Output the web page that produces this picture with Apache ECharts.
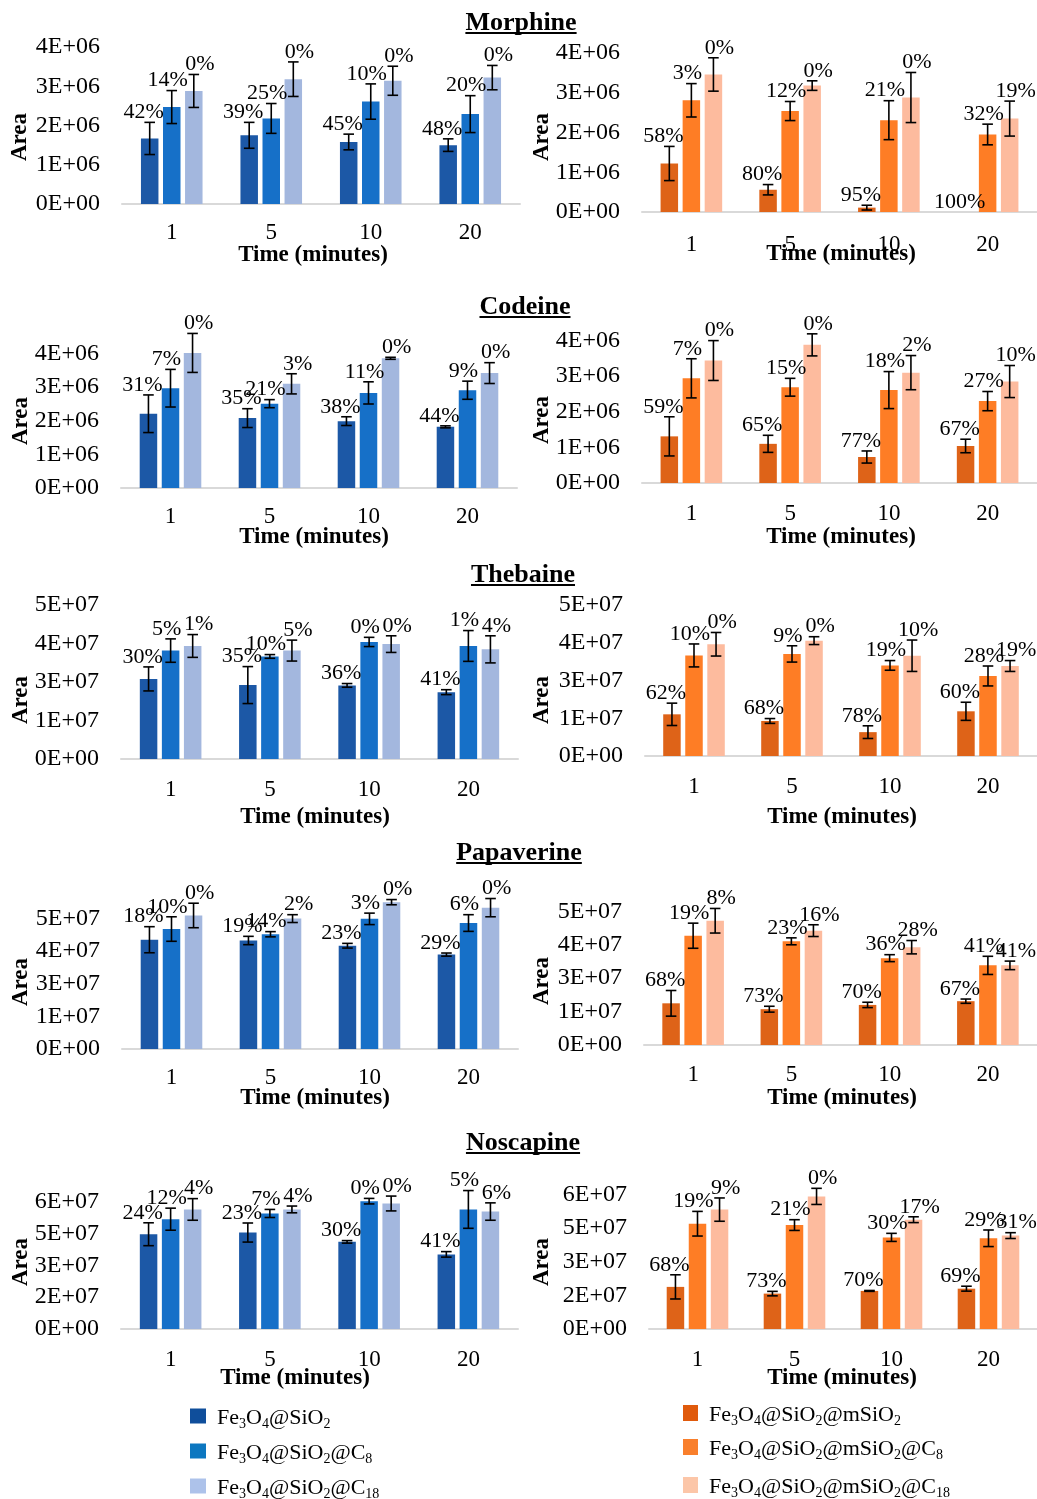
<!DOCTYPE html>
<html>
<head>
<meta charset="utf-8">
<script src="https://cdn.jsdelivr.net/npm/echarts@6/dist/echarts.min.js"></script>
<style>
  html, body { margin: 0; padding: 0; background: #ffffff; }
  #chart { width: 1037px; height: 1499px; }
</style>
</head>
<body>
<div id="chart"></div>
<script>
// Extraction time (minutes)
const categories = ['1', '5', '10', '20'];

// Peak areas: rows = bare / C8 / C18 coating; columns = extraction time.
// *Err = standard deviation (error bar half-length); *Pct = percentage shown above each bar.

// ---- Morphine ----
const morphineSilicaArea = [
  [1.67e6, 1.75e6, 1.58e6, 1.50e6],
  [2.47e6, 2.18e6, 2.61e6, 2.29e6],
  [2.88e6, 3.18e6, 3.14e6, 3.22e6]
];
const morphineSilicaErr = [
  [0.41e6, 0.33e6, 0.20e6, 0.16e6],
  [0.42e6, 0.38e6, 0.45e6, 0.47e6],
  [0.42e6, 0.44e6, 0.37e6, 0.31e6]
];
const morphineSilicaPct = [[42, 39, 45, 48], [14, 25, 10, 20], [0, 0, 0, 0]];

const morphineMesoArea = [
  [1.22e6, 0.56e6, 0.11e6, 0],
  [2.81e6, 2.54e6, 2.31e6, 1.95e6],
  [3.46e6, 3.18e6, 2.88e6, 2.35e6]
];
const morphineMesoErr = [
  [0.43e6, 0.13e6, 0.06e6, 0],
  [0.42e6, 0.24e6, 0.49e6, 0.26e6],
  [0.42e6, 0.12e6, 0.63e6, 0.44e6]
];
const morphineMesoPct = [[58, 80, 95, 100], [3, 12, 21, 32], [0, 0, 0, 19]];

// ---- Codeine ----
const codeineSilicaArea = [
  [2.21e6, 2.08e6, 1.99e6, 1.82e6],
  [2.97e6, 2.51e6, 2.83e6, 2.91e6],
  [4.02e6, 3.10e6, 3.86e6, 3.42e6]
];
const codeineSilicaErr = [
  [0.56e6, 0.28e6, 0.13e6, 0.03e6],
  [0.56e6, 0.12e6, 0.33e6, 0.27e6],
  [0.58e6, 0.30e6, 0.03e6, 0.31e6]
];
const codeineSilicaPct = [[31, 35, 38, 44], [7, 21, 11, 9], [0, 3, 0, 0]];

const codeineMesoArea = [
  [1.31e6, 1.10e6, 0.73e6, 1.04e6],
  [2.94e6, 2.69e6, 2.61e6, 2.30e6],
  [3.44e6, 3.88e6, 3.10e6, 2.85e6]
];
const codeineMesoErr = [
  [0.55e6, 0.24e6, 0.17e6, 0.19e6],
  [0.55e6, 0.25e6, 0.52e6, 0.27e6],
  [0.56e6, 0.31e6, 0.48e6, 0.45e6]
];
const codeineMesoPct = [[59, 65, 77, 67], [7, 15, 18, 27], [0, 0, 2, 10]];

// ---- Thebaine ----
const thebaineSilicaArea = [
  [2.60e7, 2.40e7, 2.39e7, 2.17e7],
  [3.52e7, 3.33e7, 3.80e7, 3.67e7],
  [3.67e7, 3.52e7, 3.73e7, 3.56e7]
];
const thebaineSilicaErr = [
  [0.39e7, 0.60e7, 0.06e7, 0.08e7],
  [0.38e7, 0.06e7, 0.15e7, 0.50e7],
  [0.37e7, 0.34e7, 0.27e7, 0.44e7]
];
const thebaineSilicaPct = [[30, 35, 36, 41], [5, 10, 0, 1], [1, 5, 0, 4]];

const thebaineMesoArea = [
  [1.38e7, 1.16e7, 0.79e7, 1.48e7],
  [3.33e7, 3.38e7, 3.00e7, 2.65e7],
  [3.70e7, 3.82e7, 3.32e7, 2.98e7]
];
const thebaineMesoErr = [
  [0.37e7, 0.08e7, 0.21e7, 0.30e7],
  [0.38e7, 0.27e7, 0.16e7, 0.33e7],
  [0.39e7, 0.13e7, 0.52e7, 0.18e7]
];
const thebaineMesoPct = [[62, 68, 78, 60], [10, 9, 19, 28], [0, 0, 10, 19]];

// ---- Papaverine ----
const papaverineSilicaArea = [
  [4.19e7, 4.16e7, 3.96e7, 3.62e7],
  [4.60e7, 4.40e7, 4.99e7, 4.83e7],
  [5.12e7, 5.00e7, 5.63e7, 5.42e7]
];
const papaverineSilicaErr = [
  [0.50e7, 0.16e7, 0.09e7, 0.06e7],
  [0.47e7, 0.10e7, 0.22e7, 0.32e7],
  [0.47e7, 0.15e7, 0.10e7, 0.35e7]
];
const papaverineSilicaPct = [[18, 19, 23, 29], [10, 14, 3, 6], [0, 2, 0, 0]];

const papaverineMesoArea = [
  [1.56e7, 1.34e7, 1.50e7, 1.64e7],
  [4.09e7, 3.88e7, 3.25e7, 2.98e7],
  [4.65e7, 4.28e7, 3.66e7, 2.98e7]
];
const papaverineMesoErr = [
  [0.48e7, 0.11e7, 0.10e7, 0.08e7],
  [0.47e7, 0.13e7, 0.13e7, 0.34e7],
  [0.46e7, 0.22e7, 0.25e7, 0.16e7]
];
const papaverineMesoPct = [[68, 73, 70, 67], [19, 23, 36, 41], [8, 16, 28, 41]];

// ---- Noscapine ----
const noscapineSilicaArea = [
  [4.47e7, 4.55e7, 4.11e7, 3.52e7],
  [5.18e7, 5.45e7, 6.03e7, 5.64e7],
  [5.64e7, 5.64e7, 5.92e7, 5.54e7]
];
const noscapineSilicaErr = [
  [0.54e7, 0.45e7, 0.06e7, 0.13e7],
  [0.52e7, 0.19e7, 0.13e7, 0.89e7],
  [0.51e7, 0.16e7, 0.35e7, 0.41e7]
];
const noscapineSilicaPct = [[24, 23, 30, 41], [12, 7, 0, 5], [4, 4, 0, 6]];

const noscapineMesoArea = [
  [1.88e7, 1.58e7, 1.70e7, 1.80e7],
  [4.70e7, 4.64e7, 4.09e7, 4.05e7],
  [5.33e7, 5.92e7, 4.88e7, 4.17e7]
];
const noscapineMesoErr = [
  [0.54e7, 0.10e7, 0.02e7, 0.11e7],
  [0.55e7, 0.24e7, 0.18e7, 0.37e7],
  [0.52e7, 0.36e7, 0.13e7, 0.13e7]
];
const noscapineMesoPct = [[68, 73, 70, 69], [19, 21, 30, 29], [9, 0, 17, 31]];

// Drug titles
const drugNames = ['Morphine', 'Codeine', 'Thebaine', 'Papaverine', 'Noscapine'];

// Sorbent names (series)
const silicaNames = ['Fe3O4@SiO2', 'Fe3O4@SiO2@C8', 'Fe3O4@SiO2@C18'];
const mesoNames = ['Fe3O4@SiO2@mSiO2', 'Fe3O4@SiO2@mSiO2@C8', 'Fe3O4@SiO2@mSiO2@C18'];

// ---------------------------------------------------------------- styling
const FONT = '"Liberation Serif", "Times New Roman", serif';
const BLUES = ['#1c58a6', '#1670c8', '#a3b7de'];
const ORANGES = ['#de6318', '#fe7d25', '#fdbb9e'];
const LEGEND_BLUES = ['#0f4e9b', '#0c77c0', '#adc2ea'];
const LEGEND_ORANGES = ['#e05a0c', '#f97f2c', '#fcc6a8'];
const BAR_W = 17.5;
const GAP_RATIO = 0.26;
const LABEL_DX = [-6, -4, 6];

// Panel layout: plot rectangle, axis scale and title anchors
const panels = [
  { area: morphineSilicaArea, err: morphineSilicaErr, pct: morphineSilicaPct, names: silicaNames, colors: BLUES,
    max: 4e6, interval: 1e6, hideMax: false, grid: { left: 122, top: 47, width: 398, height: 157 },
    catMargin: 18, xTitle: [313, 255], yTitle: [20, 137] },
  { area: morphineMesoArea, err: morphineMesoErr, pct: morphineMesoPct, names: mesoNames, colors: ORANGES,
    max: 4e6, interval: 1e6, hideMax: false, grid: { left: 642, top: 53, width: 402, height: 159 },
    catMargin: 22, xTitle: [841, 254], yTitle: [542, 137] },
  { area: codeineSilicaArea, err: codeineSilicaErr, pct: codeineSilicaPct, names: silicaNames, colors: BLUES,
    max: 5e6, interval: 1e6, hideMax: true, grid: { left: 121, top: 320, width: 396, height: 168 },
    catMargin: 18, xTitle: [314, 537], yTitle: [21, 421] },
  { area: codeineMesoArea, err: codeineMesoErr, pct: codeineMesoPct, names: mesoNames, colors: ORANGES,
    max: 5e6, interval: 1e6, hideMax: true, grid: { left: 642, top: 305, width: 402, height: 178 },
    catMargin: 20, xTitle: [841, 537], yTitle: [542, 420] },
  { area: thebaineSilicaArea, err: thebaineSilicaErr, pct: thebaineSilicaPct, names: silicaNames, colors: BLUES,
    max: 5e7, interval: 1.25e7, hideMax: false, grid: { left: 121, top: 605, width: 397, height: 154 },
    catMargin: 20, xTitle: [315, 817], yTitle: [21, 700] },
  { area: thebaineMesoArea, err: thebaineMesoErr, pct: thebaineMesoPct, names: mesoNames, colors: ORANGES,
    max: 5e7, interval: 1.25e7, hideMax: false, grid: { left: 645, top: 605, width: 400, height: 151 },
    catMargin: 20, xTitle: [842, 817], yTitle: [542, 700] },
  { area: papaverineSilicaArea, err: papaverineSilicaErr, pct: papaverineSilicaPct, names: silicaNames, colors: BLUES,
    max: 6.25e7, interval: 1.25e7, hideMax: true, grid: { left: 122, top: 886, width: 396, height: 163 },
    catMargin: 18, xTitle: [315, 1098], yTitle: [21, 982] },
  { area: papaverineMesoArea, err: papaverineMesoErr, pct: papaverineMesoPct, names: mesoNames, colors: ORANGES,
    max: 6.25e7, interval: 1.25e7, hideMax: true, grid: { left: 644, top: 878, width: 398, height: 167 },
    catMargin: 19, xTitle: [842, 1098], yTitle: [542, 981] },
  { area: noscapineSilicaArea, err: noscapineSilicaErr, pct: noscapineSilicaPct, names: silicaNames, colors: BLUES,
    max: 7.5e7, interval: 1.5e7, hideMax: true, grid: { left: 121, top: 1170, width: 397, height: 159 },
    catMargin: 20, xTitle: [295, 1378], yTitle: [21, 1262] },
  { area: noscapineMesoArea, err: noscapineMesoErr, pct: noscapineMesoPct, names: mesoNames, colors: ORANGES,
    max: 7.5e7, interval: 1.5e7, hideMax: true, grid: { left: 649, top: 1161, width: 393, height: 168 },
    catMargin: 20, xTitle: [842, 1378], yTitle: [542, 1262] }
];

// Title positions: [centre x, text middle y, underline y]
const titleAnchors = [[521, 23, 33], [525, 307, 317], [523, 575, 585], [519, 853, 863], [523, 1143, 1153]];

// Scientific tick format with one significant digit (e.g. 2.5E7 -> 3E+07)
function sci(v) {
  if (v === 0) return '0E+00';
  let e = Math.floor(Math.log10(Math.abs(v)) + 1e-9);
  let m = Math.round(v / Math.pow(10, e) + 1e-9);
  if (m >= 10) { m = 1; e += 1; }
  return m + 'E+' + String(e).padStart(2, '0');
}

const grids = [], xAxes = [], yAxes = [], series = [], graphics = [];

panels.forEach((p, pi) => {
  grids.push(Object.assign({ containLabel: false }, p.grid));
  xAxes.push({
    type: 'category', gridIndex: pi, data: categories,
    axisLine: { show: true, lineStyle: { color: '#d9d9d9', width: 2 } },
    axisTick: { show: false },
    axisLabel: { color: '#000', fontFamily: FONT, fontSize: 23, margin: p.catMargin - 1 }
  });
  yAxes.push({
    type: 'value', gridIndex: pi, min: 0, max: p.max, interval: p.interval,
    splitLine: { show: false }, axisLine: { show: false }, axisTick: { show: false },
    axisLabel: {
      color: '#000', fontFamily: FONT, fontSize: 24, margin: 22,
      showMaxLabel: !p.hideMax, formatter: sci
    }
  });

  for (let k = 0; k < 3; k++) {
    series.push({
      type: 'bar', name: p.names[k], xAxisIndex: pi, yAxisIndex: pi,
      data: p.area[k], barWidth: BAR_W, barGap: (GAP_RATIO * 100) + '%',
      itemStyle: { color: p.colors[k] }, clip: false, silent: true, z: 2
    });
  }
  for (let k = 0; k < 3; k++) {
    const vals = p.area[k], errs = p.err[k], pct = p.pct[k];
    series.push({
      type: 'custom', name: p.names[k] + ' SD', xAxisIndex: pi, yAxisIndex: pi,
      data: vals.map((v, i) => [i, v, errs[i]]),
      encode: { x: 0, y: 1 }, z: 5, clip: false, silent: true,
      renderItem: function (params, api) {
        const i = api.value(0), v = api.value(1), e = api.value(2);
        const cx = api.coord([i, 0])[0] + (k - 1) * BAR_W * (1 + GAP_RATIO);
        const yTop = api.coord([i, v + e])[1];
        const yBot = api.coord([i, Math.max(0, v - e)])[1];
        const children = [];
        if (e > 0) {
          const ls = { stroke: '#000', lineWidth: 1.6 };
          children.push({ type: 'line', shape: { x1: cx, y1: yTop, x2: cx, y2: yBot }, style: ls });
          children.push({ type: 'line', shape: { x1: cx - 5.3, y1: yTop, x2: cx + 5.3, y2: yTop }, style: ls });
          children.push({ type: 'line', shape: { x1: cx - 5.3, y1: yBot, x2: cx + 5.3, y2: yBot }, style: ls });
        }
        children.push({
          type: 'text', x: cx + LABEL_DX[k], y: yTop + 1,
          style: {
            text: pct[params.dataIndex] + '%', fill: '#000',
            fontFamily: FONT, fontSize: 22, align: 'center', verticalAlign: 'bottom'
          }
        });
        return { type: 'group', children: children };
      }
    });
  }

  graphics.push({
    type: 'text', x: p.xTitle[0], y: p.xTitle[1],
    style: { text: 'Time (minutes)', fill: '#000', fontFamily: FONT, fontSize: 23, fontWeight: 'bold',
             align: 'center', verticalAlign: 'middle' }
  });
  graphics.push({
    type: 'text', x: p.yTitle[0], y: p.yTitle[1], rotation: Math.PI / 2,
    style: { text: 'Area', fill: '#000', fontFamily: FONT, fontSize: 23, fontWeight: 'bold',
             align: 'center', verticalAlign: 'middle' }
  });
});

// Underlined drug titles
const measureCtx = document.createElement('canvas').getContext('2d');
measureCtx.font = 'bold 26px "Liberation Serif"';
drugNames.forEach((name, i) => {
  const [cx, cy, uy] = titleAnchors[i];
  const w = measureCtx.measureText(name).width;
  graphics.push({
    type: 'text', x: cx, y: cy,
    style: { text: name, fill: '#000', fontFamily: FONT, fontSize: 26, fontWeight: 'bold',
             align: 'center', verticalAlign: 'middle' }
  });
  graphics.push({
    type: 'line', shape: { x1: cx - w / 2, y1: uy, x2: cx + w / 2, y2: uy },
    style: { stroke: '#000', lineWidth: 2 }
  });
});

// Legend with chemical subscripts
function formula(name) {
  // split digits into subscript tokens
  return name.replace(/(\d+)/g, '}{s|$1}{n|').replace(/^/, '{n|').replace(/$/, '}').replace(/\{n\|\}/g, '');
}
const legendRich = {
  n: { fontFamily: FONT, fontSize: 22, fill: '#000', lineHeight: 26 },
  s: { fontFamily: FONT, fontSize: 14, fill: '#000', lineHeight: 15, verticalAlign: 'bottom' }
};
const legendCols = [
  { names: silicaNames, colors: LEGEND_BLUES, sx: 190, sw: 16, sh: 15, tx: 217, ys: [1416, 1451, 1486] },
  { names: mesoNames, colors: LEGEND_ORANGES, sx: 683, sw: 15, sh: 16, tx: 709, ys: [1413, 1447, 1485] }
];
legendCols.forEach(col => {
  col.names.forEach((nm, k) => {
    const y = col.ys[k];
    graphics.push({
      type: 'rect', shape: { x: col.sx, y: y - col.sh / 2, width: col.sw, height: col.sh },
      style: { fill: col.colors[k] }
    });
    graphics.push({
      type: 'text', x: col.tx, y: y + 2,
      style: { text: formula(nm), rich: legendRich, align: 'left', verticalAlign: 'middle' }
    });
  });
});

const chart = echarts.init(document.getElementById('chart'), null, { renderer: 'canvas' });
chart.setOption({
  backgroundColor: '#ffffff',
  animation: false,
  grid: grids,
  xAxis: xAxes,
  yAxis: yAxes,
  series: series,
  graphic: { elements: graphics }
});
</script>
</body>
</html>
